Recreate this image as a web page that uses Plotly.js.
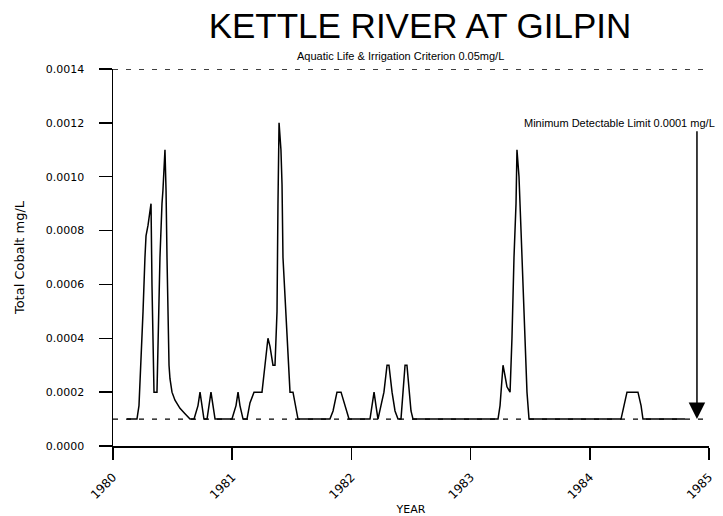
<!DOCTYPE html>
<html>
<head>
<meta charset="utf-8">
<script src="https://cdn.plot.ly/plotly-3.0.1.min.js"></script>
<style>html,body{margin:0;padding:0;background:#fff;}#chart{width:723px;height:516px;}</style>
</head>
<body>
<div id="chart"></div>
<script>
// ---- data (decimal year, total cobalt mg/L) ----
const sampleYears = [
  1980.117, 1980.201, 1980.218, 1980.235, 1980.252, 1980.268, 1980.277, 1980.294, 1980.302, 1980.319,
  1980.327, 1980.336, 1980.344, 1980.369, 1980.378, 1980.394, 1980.411, 1980.419, 1980.436, 1980.445,
  1980.453, 1980.461, 1980.470, 1980.478, 1980.495, 1980.520, 1980.562, 1980.604, 1980.646, 1980.680,
  1980.713, 1980.730, 1980.747, 1980.763, 1980.789, 1980.805, 1980.822, 1980.839, 1980.856, 1980.889,
  1980.923, 1980.965, 1980.998, 1981.032, 1981.049, 1981.065, 1981.091, 1981.124, 1981.149, 1981.183,
  1981.216, 1981.250, 1981.275, 1981.300, 1981.317, 1981.342, 1981.359, 1981.376, 1981.384, 1981.393,
  1981.409, 1981.418, 1981.426, 1981.451, 1981.485, 1981.510, 1981.535, 1981.552, 1981.611, 1981.669,
  1981.737, 1981.820, 1981.846, 1981.879, 1981.913, 1981.946, 1981.980, 1982.030, 1982.089, 1982.156,
  1982.173, 1982.190, 1982.206, 1982.223, 1982.248, 1982.273, 1982.299, 1982.315, 1982.341, 1982.366,
  1982.391, 1982.416, 1982.433, 1982.450, 1982.466, 1982.483, 1982.500, 1982.517, 1982.575, 1982.659,
  1982.743, 1982.827, 1982.911, 1982.995, 1983.079, 1983.163, 1983.230, 1983.247, 1983.263, 1983.272,
  1983.289, 1983.305, 1983.331, 1983.347, 1983.364, 1983.381, 1983.389, 1983.406, 1983.423, 1983.440,
  1983.456, 1983.473, 1983.490, 1983.582, 1983.666, 1983.750, 1983.834, 1983.918, 1984.002, 1984.086,
  1984.169, 1984.262, 1984.287, 1984.312, 1984.346, 1984.379, 1984.404, 1984.430, 1984.446, 1984.505,
  1984.589, 1984.673, 1984.799
];
const cobaltValues = [
  0.0001, 0.0001, 0.00015, 0.0003, 0.0005, 0.0007, 0.00078, 0.00082, 0.00085, 0.0009,
  0.0006, 0.0004, 0.0002, 0.0002, 0.0004, 0.0007, 0.0009, 0.00095, 0.0011, 0.00095,
  0.0007, 0.0005, 0.0003, 0.00025, 0.0002, 0.00017, 0.00014, 0.00012, 0.0001, 0.0001,
  0.00015, 0.0002, 0.00015, 0.0001, 0.0001, 0.00015, 0.0002, 0.00015, 0.0001, 0.0001,
  0.0001, 0.0001, 0.0001, 0.00015, 0.0002, 0.00015, 0.0001, 0.0001, 0.00016, 0.0002,
  0.0002, 0.0002, 0.0003, 0.0004, 0.00037, 0.0003, 0.0003, 0.0005, 0.0009, 0.0012,
  0.0011, 0.00097, 0.0007, 0.0005, 0.0002, 0.0002, 0.00013, 0.0001, 0.0001, 0.0001,
  0.0001, 0.0001, 0.00013, 0.0002, 0.0002, 0.00015, 0.0001, 0.0001, 0.0001, 0.0001,
  0.00015, 0.0002, 0.00015, 0.0001, 0.00015, 0.0002, 0.0003, 0.0003, 0.0002, 0.00013,
  0.0001, 0.0001, 0.0002, 0.0003, 0.0003, 0.0002, 0.00013, 0.0001, 0.0001, 0.0001,
  0.0001, 0.0001, 0.0001, 0.0001, 0.0001, 0.0001, 0.0001, 0.00015, 0.00025, 0.0003,
  0.00026, 0.00022, 0.0002, 0.0004, 0.0007, 0.0009, 0.0011, 0.001, 0.0008, 0.0006,
  0.0004, 0.0002, 0.0001, 0.0001, 0.0001, 0.0001, 0.0001, 0.0001, 0.0001, 0.0001,
  0.0001, 0.0001, 0.00015, 0.0002, 0.0002, 0.0002, 0.0002, 0.00015, 0.0001, 0.0001,
  0.0001, 0.0001, 0.0001
];
const yearTicks = [1980, 1981, 1982, 1983, 1984, 1985];
const yearLabels = ['1980', '1981', '1982', '1983', '1984', '1985'];
const cobaltTicks = [0, 0.0002, 0.0004, 0.0006, 0.0008, 0.0010, 0.0012, 0.0014];
const cobaltLabels = ['0.0000', '0.0002', '0.0004', '0.0006', '0.0008', '0.0010', '0.0012', '0.0014'];
const criterionLevel = [0.0014];
const detectionLimit = [0.0001];
const chartTitle = 'KETTLE RIVER AT GILPIN';
const criterionText = 'Aquatic Life & Irrigation Criterion 0.05mg/L';
const detectionText = 'Minimum Detectable Limit 0.0001 mg/L';

const FONT = 'Liberation Sans, Arial, sans-serif';
const TICKFONT = 'DejaVu Sans, sans-serif';

const trace = {
  x: sampleYears, y: cobaltValues, type: 'scatter', mode: 'lines',
  line: {color: '#000', width: 1.5}, hoverinfo: 'skip', showlegend: false
};

const dashStyle = {color: '#000', width: 1.3, dash: '5px,8px'};

const layout = {
  width: 723, height: 516,
  margin: {l: 113, r: 14, t: 69, b: 70},
  paper_bgcolor: '#fff', plot_bgcolor: '#fff',
  font: {family: FONT, color: '#000'},
  title: {text: chartTitle, font: {family: FONT, size: 35, color: '#000'},
          x: 420/723, xanchor: 'center', xref: 'container', y: 1 - 26/516, yanchor: 'middle'},
  xaxis: {
    range: [1980, 1985], tickvals: yearTicks, ticktext: yearLabels, tickangle: -45,
    showline: true, linecolor: '#000', linewidth: 1.5, ticks: 'outside', ticklen: 12,
    tickwidth: 1.5, tickcolor: '#000', showgrid: false, zeroline: false,
    tickfont: {family: TICKFONT, size: 12, color: '#000'}, ticklabelstandoff: 6,
    title: {text: 'YEAR', font: {family: TICKFONT, size: 11, color: '#000'}, standoff: 8}
  },
  yaxis: {
    range: [0, 0.0014], tickvals: cobaltTicks, ticktext: cobaltLabels,
    showline: true, linecolor: '#000', linewidth: 1.5, ticks: 'outside', ticklen: 13,
    tickwidth: 1.5, tickcolor: '#000', showgrid: false, zeroline: false,
    tickfont: {family: TICKFONT, size: 11, color: '#000'}, ticklabelstandoff: 12,
    title: {text: 'Total Cobalt mg/L', font: {family: TICKFONT, size: 13, color: '#000'}, standoff: 18}
  },
  shapes: [
    {type: 'line', xref: 'paper', x0: 0, x1: 1, yref: 'y', y0: criterionLevel[0], y1: criterionLevel[0], line: dashStyle},
    {type: 'line', xref: 'paper', x0: 0, x1: 1, yref: 'y', y0: detectionLimit[0], y1: detectionLimit[0], line: dashStyle},
    {type: 'line', xref: 'paper', x0: 0, x1: 0, yref: 'paper', y0: 0, y1: -12/377, line: {color: '#000', width: 1.5}}
  ],
  annotations: [
    {text: criterionText, xref: 'paper', x: (400-113)/596, yref: 'paper', y: 1, yshift: 13,
     xanchor: 'center', yanchor: 'middle', showarrow: false, font: {family: FONT, size: 11, color: '#000'}},
    {text: detectionText, xref: 'paper', x: (717-113)/596, yref: 'y', y: 0.0012,
     xanchor: 'right', yanchor: 'middle', showarrow: false, font: {family: FONT, size: 11, color: '#000'}},
    {text: '', xref: 'x', yref: 'y', x: 1984.899, y: detectionLimit[0],
     axref: 'x', ayref: 'y', ax: 1984.899, ay: 0.001174,
     showarrow: true, arrowhead: 2, arrowsize: 2.2, arrowwidth: 1.5, arrowcolor: '#000', standoff: 0}
  ]
};

Plotly.newPlot('chart', [trace], layout, {displayModeBar: false, staticPlot: true});
</script>
</body>
</html>
